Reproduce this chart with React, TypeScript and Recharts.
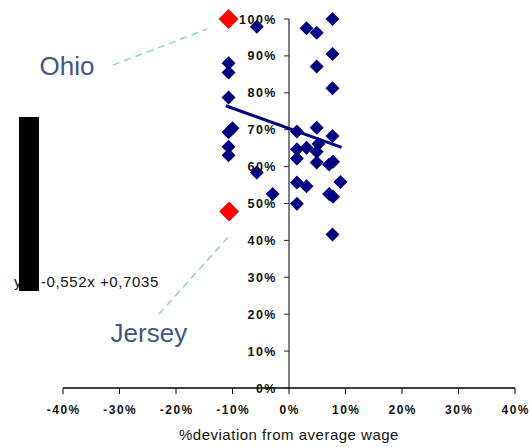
import React from 'react';
import {
  ScatterChart, Scatter, XAxis, YAxis, ReferenceLine, ReferenceDot,
} from 'recharts';

const W = 529;
const H = 447;
const PLOT_LEFT = 63;
const PLOT_RIGHT = 515;
const PLOT_TOP = 19;
const X_AXIS_H = 59;
const Y_AXIS_W = 20;
// y axis crosses at x = 0, the middle of the symmetric domain
const ZERO_SHIFT = (PLOT_RIGHT - PLOT_LEFT) / 2;

const X_TICKS = [-0.4, -0.3, -0.2, -0.1, 0, 0.1, 0.2, 0.3, 0.4];
const Y_TICKS = [0, 0.1, 0.2, 0.3, 0.4, 0.5, 0.6, 0.7, 0.8, 0.9, 1];

const statesX = [
  -0.057, -0.107, -0.107, -0.107, -0.1, -0.107, -0.107, -0.107, -0.057, -0.029,
  0.031, 0.049, 0.077, 0.077, 0.049, 0.077, 0.014, 0.049, 0.077, 0.014,
  0.031, 0.052, 0.049, 0.014, 0.049, 0.071, 0.078, 0.014, 0.031, 0.091,
  0.071, 0.078, 0.014, 0.077,
];
const statesY = [
  0.979, 0.88, 0.855, 0.787, 0.704, 0.693, 0.654, 0.631, 0.584, 0.526,
  0.975, 0.963, 1.0, 0.905, 0.871, 0.812, 0.695, 0.705, 0.683, 0.647,
  0.651, 0.661, 0.64, 0.622, 0.611, 0.606, 0.613, 0.557, 0.547, 0.558,
  0.526, 0.518, 0.499, 0.416,
];

const highlightNames = ['Ohio', 'Jersey'];
const highlightX = [-0.107, -0.106];
const highlightY = [1.0, 0.478];

const trendX = [-0.112, 0.093];
const trendY = [0.765, 0.652];

// leader lines from the labels to the red points
const ohioLeadX = [-0.3115, -0.145];
const ohioLeadY = [0.875, 0.973];
const jerseyLeadX = [-0.23, -0.1044];
const jerseyLeadY = [0.2005, 0.4146];

const labelX = [-0.393, -0.248];
const labelY = [0.874, 0.149];

const equation = 'y = -0,552x +0,7035';

const zip = (xs: number[], ys: number[]) => xs.map((x, i) => ({ x, y: ys[i] }));

const states = zip(statesX, statesY);
const highlights = zip(highlightX, highlightY);
const trend = zip(trendX, trendY);
const ohioLead = zip(ohioLeadX, ohioLeadY);
const jerseyLead = zip(jerseyLeadX, jerseyLeadY);

const pct = (v: number) => `${Math.round(v * 100)}%`;
const FONT = '"Liberation Sans", Arial, sans-serif';

function Diamond({ cx, cy, r, fill }: { cx: number; cy: number; r: number; fill: string }) {
  if (cx == null || cy == null) return <g />;
  return (
    <polygon
      points={`${cx},${cy - r} ${cx + r},${cy} ${cx},${cy + r} ${cx - r},${cy}`}
      fill={fill}
    />
  );
}

function XTick({ x, y, payload }: any) {
  return (
    <text
      x={x + 0.75}
      y={y + 18}
      textAnchor="middle"
      fontFamily={FONT}
      fontSize={12}
      fontWeight="bold"
      letterSpacing={1.5}
      fill="#111"
    >
      {pct(payload.value)}
    </text>
  );
}

function YTick({ x, y, payload }: any) {
  // x arrives at the plot's left edge; move it to where x = 0 sits
  const zx = x + ZERO_SHIFT;
  return (
    <g>
      <line x1={zx - 5} x2={zx} y1={y} y2={y} stroke="#222" />
      <text
        x={zx - 12}
        y={y + 4.5}
        textAnchor="end"
        fontFamily={FONT}
        fontSize={12.5}
        fontWeight="bold"
        letterSpacing={1.5}
        fill="#111"
      >
        {pct(payload.value)}
      </text>
    </g>
  );
}

export default function App() {
  return (
    <div style={{ position: 'absolute', left: 0, top: 0, width: W, height: H, background: '#fff' }}>
      <ScatterChart
        width={W}
        height={H}
        margin={{ top: PLOT_TOP, right: W - PLOT_RIGHT, bottom: 0, left: PLOT_LEFT - Y_AXIS_W }}
      >
        <XAxis
          type="number"
          dataKey="x"
          domain={[-0.4, 0.4]}
          ticks={X_TICKS}
          height={X_AXIS_H}
          tickSize={6}
          tickMargin={2}
          tick={<XTick />}
          axisLine={{ stroke: '#000', strokeWidth: 1.5 }}
          tickLine={{ stroke: '#000' }}
          label={{
            value: '%deviation from average wage',
            position: 'insideBottom',
            offset: 7,
            fontSize: 15,
            fontFamily: FONT,
            letterSpacing: 0.5,
            fill: '#111',
          }}
        />
        <YAxis
          type="number"
          dataKey="y"
          domain={[0, 1]}
          ticks={Y_TICKS}
          width={Y_AXIS_W}
          tickSize={0}
          tickMargin={0}
          axisLine={false}
          tickLine={false}
          tick={<YTick />}
          interval={0}
        />
        <ReferenceLine x={0} stroke="#808080" strokeWidth={2} />
        <Scatter
          data={ohioLead}
          line={{ stroke: '#8ec8e8', strokeWidth: 1.5, strokeDasharray: '7 5' }}
          shape={() => <g />}
          isAnimationActive={false}
        />
        <Scatter
          data={jerseyLead}
          line={{ stroke: '#8ec8e8', strokeWidth: 1.5, strokeDasharray: '7 5' }}
          shape={() => <g />}
          isAnimationActive={false}
        />
        <Scatter
          data={trend}
          line={{ stroke: '#000080', strokeWidth: 3 }}
          shape={() => <g />}
          isAnimationActive={false}
        />
        <Scatter
          data={states}
          shape={(p: any) => <Diamond cx={p.cx} cy={p.cy} r={7} fill="#000080" />}
          isAnimationActive={false}
        />
        <Scatter
          data={highlights}
          shape={(p: any) => <Diamond cx={p.cx} cy={p.cy} r={10} fill="#ff0000" />}
          isAnimationActive={false}
        />
        {highlightNames.map((name, i) => (
          <ReferenceDot
            key={name}
            x={labelX[i]}
            y={labelY[i]}
            r={0}
            stroke="none"
            fill="none"
            label={{
              value: name,
              position: 'center',
              fontSize: 26,
              fontFamily: FONT,
              fill: '#44557f',
            }}
          />
        ))}
      </ScatterChart>
      <div
        style={{
          position: 'absolute',
          left: 14,
          top: 273,
          fontFamily: FONT,
          fontSize: 15,
          lineHeight: '17px',
          letterSpacing: 0.6,
          whiteSpace: 'pre',
          color: '#111',
        }}
      >
        {equation}
      </div>
      <div style={{ position: 'absolute', left: 19, top: 117, width: 20, height: 174, background: '#000' }} />
    </div>
  );
}
